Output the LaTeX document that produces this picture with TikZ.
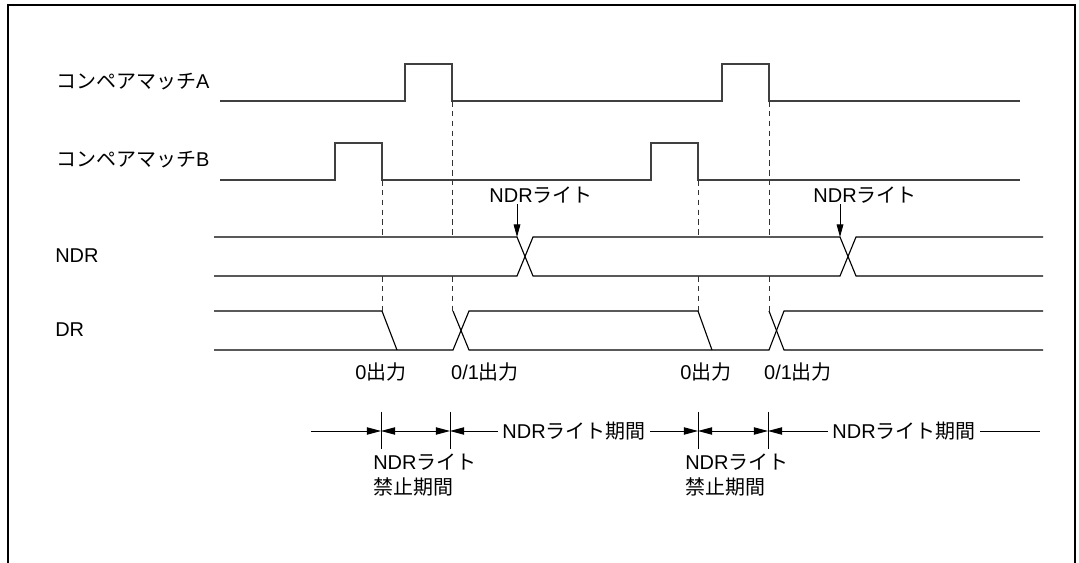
\documentclass[tikz,border=0pt]{standalone}
\usepackage{fontspec}
\setmainfont{Liberation Sans}
\newfontfamily\jp{Noto Sans CJK JP}
\usetikzlibrary{arrows.meta}

\begin{document}
\begin{tikzpicture}[
	x=0.025cm, y=-0.025cm,
	font=\fontsize{14.2}{17.7}\selectfont,
	frame/.style	= {line width=0.9pt},
	wave/.style	= {line width=1.1pt, black!75},
	sig/.style	= {line width=0.8pt},
	guide/.style	= {line width=0.6pt, black!80, dash pattern=on 4pt off 3pt},
	tip/.style	= {-{Triangle[length=9pt, width=4.8pt]}, line width=0.6pt},
	span/.style	= {{Triangle[length=10pt, width=5.2pt]}-{Triangle[length=10pt, width=5.2pt]}, line width=0.6pt},
	lspan/.style	= {{Triangle[length=10pt, width=5.2pt]}-, line width=0.6pt},
	rspan/.style	= {-{Triangle[length=10pt, width=5.2pt]}, line width=0.6pt},
	l/.style	= {inner sep=0pt, anchor=base west},
	c/.style	= {inner sep=0pt, anchor=base}
	]

	\useasboundingbox (0,0) rectangle (1079,563);

	%Frame
	\draw[frame]	(8,563) -- (8,5) -- (1075,5) -- (1075,563);

	%Coordinates
	\coordinate	(n1)	at	(517,237);
	\coordinate	(n2)	at	(840,237);
	\coordinate	(d0)	at	(311,431);
	\coordinate	(d1)	at	(381,431);
	\coordinate	(d2)	at	(450,431);
	\coordinate	(d3)	at	(698,431);
	\coordinate	(d4)	at	(768,431);
	\coordinate	(d5)	at	(1040,431);

	%Nodes
	\node[l]	(cmpA)	at	(56,89)		{{\jp コンペアマッチ}A};
	\node[l]	(cmpB)	at	(56,167)	{{\jp コンペアマッチ}B};
	\node[l]	(ndr)	at	(55,263)	{NDR};
	\node[l]	(dr)	at	(55,337)	{DR};
	\node[c]	(wr1)	at	(541,203)	{NDR{\jp ライト}};
	\node[c]	(wr2)	at	(865,203)	{NDR{\jp ライト}};
	\node[c]	(o1)	at	(381,380)	{0{\jp 出力}};
	\node[c]	(o2)	at	(485,380)	{0/1{\jp 出力}};
	\node[c]	(o3)	at	(706,380)	{0{\jp 出力}};
	\node[c]	(o4)	at	(798,380)	{0/1{\jp 出力}};
	\node[inner sep=0pt, anchor=north west, align=left]	(ban1)	at	(373,454)	{NDR{\jp ライト}\\{\jp 禁止期間}};
	\node[inner sep=0pt, anchor=north west, align=left]	(ban2)	at	(685,454)	{NDR{\jp ライト}\\{\jp 禁止期間}};

	%Waveforms
	\draw[wave]	(220,101) -- (405,101) |- (452,64) |- (722,101) |- (769,64) |- (1020,101);
	\draw[wave]	(220,180) -- (335,180) |- (382,143) |- (651,180) |- (698,143) |- (1020,180);

	\draw[sig]	(214,237) -- (n1) -- (533,276) -- (840,276) -- (856,237) -- (1043,237);
	\draw[sig]	(214,276) -- (517,276) -- (533,237) -- (n2) -- (856,276) -- (1043,276);

	\draw[sig]	(214,311) -- (382,311) -- (397,350);
	\draw[sig]	(214,350) -- (453,350) -- (469,311) -- (698,311) -- (712,350);
	\draw[sig]	(453,311) -- (469,350) -- (769,350) -- (784,311) -- (1043,311);
	\draw[sig]	(769,311) -- (784,350) -- (1043,350);

	\foreach \x/\y in {382/180, 452/101, 698/180, 769/101} {
		\draw[guide]	(\x,\y) -- (\x,237);
		\draw[guide]	(\x,276) -- (\x,311);
	}

	%Lines
	\draw[tip]	(wr1.south -| n1)	--	(n1);
	\draw[tip]	(wr2.south -| n2)	--	(n2);

	\foreach \x in {381,450,698,768}
		\draw[line width=0.6pt]	(\x,412) -- (\x,449);

	\draw[rspan]	(d0)	--	(d1);
	\draw[span]	(d1)	--	(d2);
	\draw[span]	(d2)	--	node[fill=white, inner xsep=3pt, inner ysep=1pt]	(p1)	{NDR{\jp ライト期間}}	(d3);
	\draw[span]	(d3)	--	(d4);
	\draw[lspan]	(d4)	--	node[fill=white, inner xsep=3pt, inner ysep=1pt]	(p2)	{NDR{\jp ライト期間}}	(d5);

\end{tikzpicture}
\end{document}
